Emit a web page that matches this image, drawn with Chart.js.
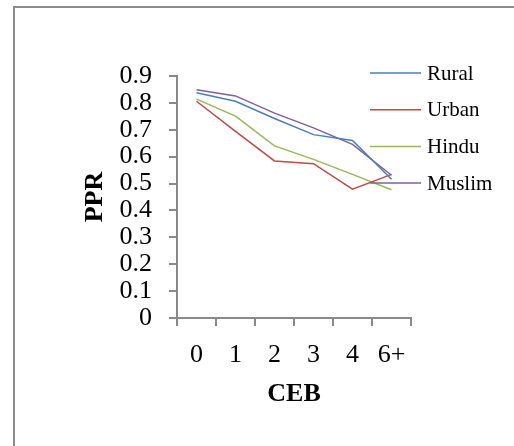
<!DOCTYPE html>
<html>
<head>
<meta charset="utf-8">
<script src="https://cdn.jsdelivr.net/npm/chart.js@4"></script>
<style>
  html, body { margin: 0; padding: 0; background: #fff; }
  #wrap { position: relative; width: 514px; height: 446px; overflow: hidden; }
  #frame { position: absolute; left: 13px; top: 6px; width: 600px; height: 600px;
           border-left: 2px solid #8c8c8c; border-top: 2px solid #8c8c8c; }
  canvas { position: absolute; left: 0; top: 0; }
</style>
</head>
<body>
<div id="wrap">
  <div id="frame"></div>
  <canvas id="myChart" width="514" height="446"></canvas>
</div>
<script>
// children ever born categories
const ceb = ["0", "1", "2", "3", "4", "6+"];

// parity progression ratios
const rural  = [0.838, 0.806, 0.742, 0.682, 0.660, 0.516];
const urban  = [0.806, 0.694, 0.584, 0.574, 0.479, 0.534];
const hindu  = [0.814, 0.751, 0.640, 0.590, 0.534, 0.477];
const muslim = [0.849, 0.826, 0.762, 0.707, 0.646, 0.531];

const yTicks = [0, 0.1, 0.2, 0.3, 0.4, 0.5, 0.6, 0.7, 0.8, 0.9];

const axisGray = '#898989';
Chart.defaults.font.family = "'Liberation Serif', serif";
Chart.defaults.color = '#000';

function series(label, values, color) {
    return {
        label: label,
        data: values,
        borderColor: color,
        backgroundColor: color,
        borderWidth: 1.5,
        pointRadius: 0,
        tension: 0,
        fill: false
    };
}

// legend drawn beside the plot, lines running into the plot area
const sideLegend = {
    id: 'sideLegend',
    afterDraw: (chart) => {
        const {ctx, chartArea: {top, right}} = chart;
        ctx.save();
        ctx.font = "21px 'Liberation Serif', serif";
        ctx.textBaseline = 'middle';
        ctx.textAlign = 'left';
        chart.data.datasets.forEach((ds, i) => {
            const y = top - 3 + i * 36.7;
            ctx.strokeStyle = ds.borderColor;
            ctx.lineWidth = 1.5;
            ctx.beginPath();
            ctx.moveTo(right - 41, y);
            ctx.lineTo(right + 10, y);
            ctx.stroke();
            ctx.fillStyle = '#000';
            ctx.fillText(ds.label, right + 16, y + 1);
        });
        ctx.restore();
    }
};

const data = {
    labels: ceb,
    datasets: [
        series('Rural', rural, '#4a7ebb'),
        series('Urban', urban, '#be4b48'),
        series('Hindu', hindu, '#98b954'),
        series('Muslim', muslim, '#7d60a0')
    ]
};

const config = {
    type: 'line',
    data,
    options: {
        responsive: false,
        animation: false,
        layout: {
            padding: { left: 0, top: 76, right: 103, bottom: 0 }
        },
        plugins: {
            legend: { display: false },
            tooltip: { enabled: false }
        },
        scales: {
            x: {
                offset: true,
                grid: {
                    offset: true,
                    drawOnChartArea: false,
                    drawTicks: true,
                    tickLength: 8,
                    color: axisGray,
                    lineWidth: 2
                },
                border: { display: true, color: axisGray, width: 2 },
                ticks: {
                    font: { size: 26 },
                    padding: 14,
                    maxRotation: 0,
                    autoSkip: false
                },
                title: {
                    display: true,
                    text: 'CEB',
                    font: { size: 26, weight: 'bold' },
                    padding: { top: 0, bottom: 36 }
                },
                afterFit: (scale) => { scale.height = 128; }
            },
            y: {
                min: 0,
                max: 0.9,
                afterBuildTicks: (scale) => {
                    scale.ticks = yTicks.map(v => ({ value: v }));
                },
                grid: {
                    drawOnChartArea: false,
                    drawTicks: true,
                    tickLength: 8,
                    color: axisGray,
                    lineWidth: 2
                },
                border: { display: true, color: axisGray, width: 2 },
                ticks: {
                    font: { size: 26 },
                    padding: 17,
                    autoSkip: false,
                    callback: (v) => String(v)
                },
                title: {
                    display: true,
                    text: 'PPR',
                    font: { size: 26, weight: 'bold' },
                    padding: { top: 80, bottom: 0 }
                },
                afterFit: (scale) => { scale.width = 177; }
            }
        }
    },
    plugins: [sideLegend]
};

const myChart = new Chart(document.getElementById('myChart'), config);
</script>
</body>
</html>
